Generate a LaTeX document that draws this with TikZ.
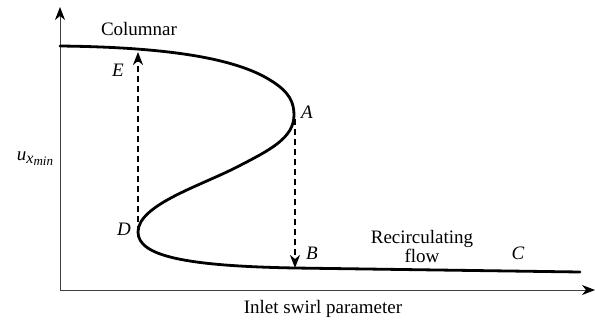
\documentclass[tikz,border=0pt]{standalone}
\usepackage{fontspec}
\setmainfont{Liberation Serif}
\usetikzlibrary{arrows.meta}
\begin{document}
\begin{tikzpicture}[x=1pt,y=-1pt,
  axis/.style={line width=0.9pt,draw=black!75,-{Stealth[length=13pt,width=10pt,inset=4pt,color=black]}},
  branch/.style={line width=2.8pt,line cap=round},
  jump/.style={line width=1.8pt,dash pattern=on 6pt off 4pt,-{Stealth[length=13pt,width=10pt,inset=4pt]}},
  lbl/.style={font=\fontsize{19}{21}\selectfont,inner sep=0pt},
  pt/.style={font=\fontsize{19}{21}\selectfont\itshape,inner sep=0pt}]
\useasboundingbox (0,0) rectangle (595,322);
% axes
\coordinate (O) at (60,290);
\coordinate (Ytop) at (60,7);
\coordinate (Xend) at (595,290);
\draw[axis] (O) -- (Ytop);
\draw[axis] (O) -- (Xend);
% key points
\coordinate (start) at (60,46);
\coordinate (mid1) at (270,80);
\coordinate (Apt) at (294,115);
\coordinate (mid2) at (237,167);
\coordinate (Dpt) at (138,232);
\coordinate (Bpt) at (295,268);
\coordinate (Cend) at (580,272);
\coordinate (Etip) at (138,52);
\coordinate (Atop) at (295,119);
% S-curve
\draw[branch] (start) .. controls (150,47) and (230,55) .. (mid1)
  .. controls (290,92) and (294,103) .. (Apt)
  .. controls (294,138) and (270,150) .. (mid2)
  .. controls (200,186) and (138,205) .. (Dpt)
  .. controls (138,256) and (185,266) .. (Bpt) -- (Cend);
% jumps
\draw[jump] (Dpt) -- (Etip);
\draw[jump] (Atop) -- (Bpt);
% labels
\node[lbl] (col) at (139,29) {Columnar};
\node[lbl,align=center] (rec) at (422,246) {Recirculating\\[-2pt]flow};
\node[lbl] (xl) at (323,309) {Inlet swirl parameter};
\node[pt] (lA) at (307,112) {A};
\node[pt] (lB) at (312,253) {B};
\node[pt] (lC) at (518,253) {C};
\node[pt] (lD) at (124,229) {D};
\node[pt] (lE) at (118,70) {E};
\node[inner sep=0pt] (yl) at (35,159) {\fontsize{19}{21}\selectfont\textit{u}\raisebox{-0.3ex}{\fontsize{16}{18}\selectfont\textit{x}\raisebox{-0.35ex}{\fontsize{13}{14}\selectfont\textit{min}}}};
\end{tikzpicture}
\end{document}
